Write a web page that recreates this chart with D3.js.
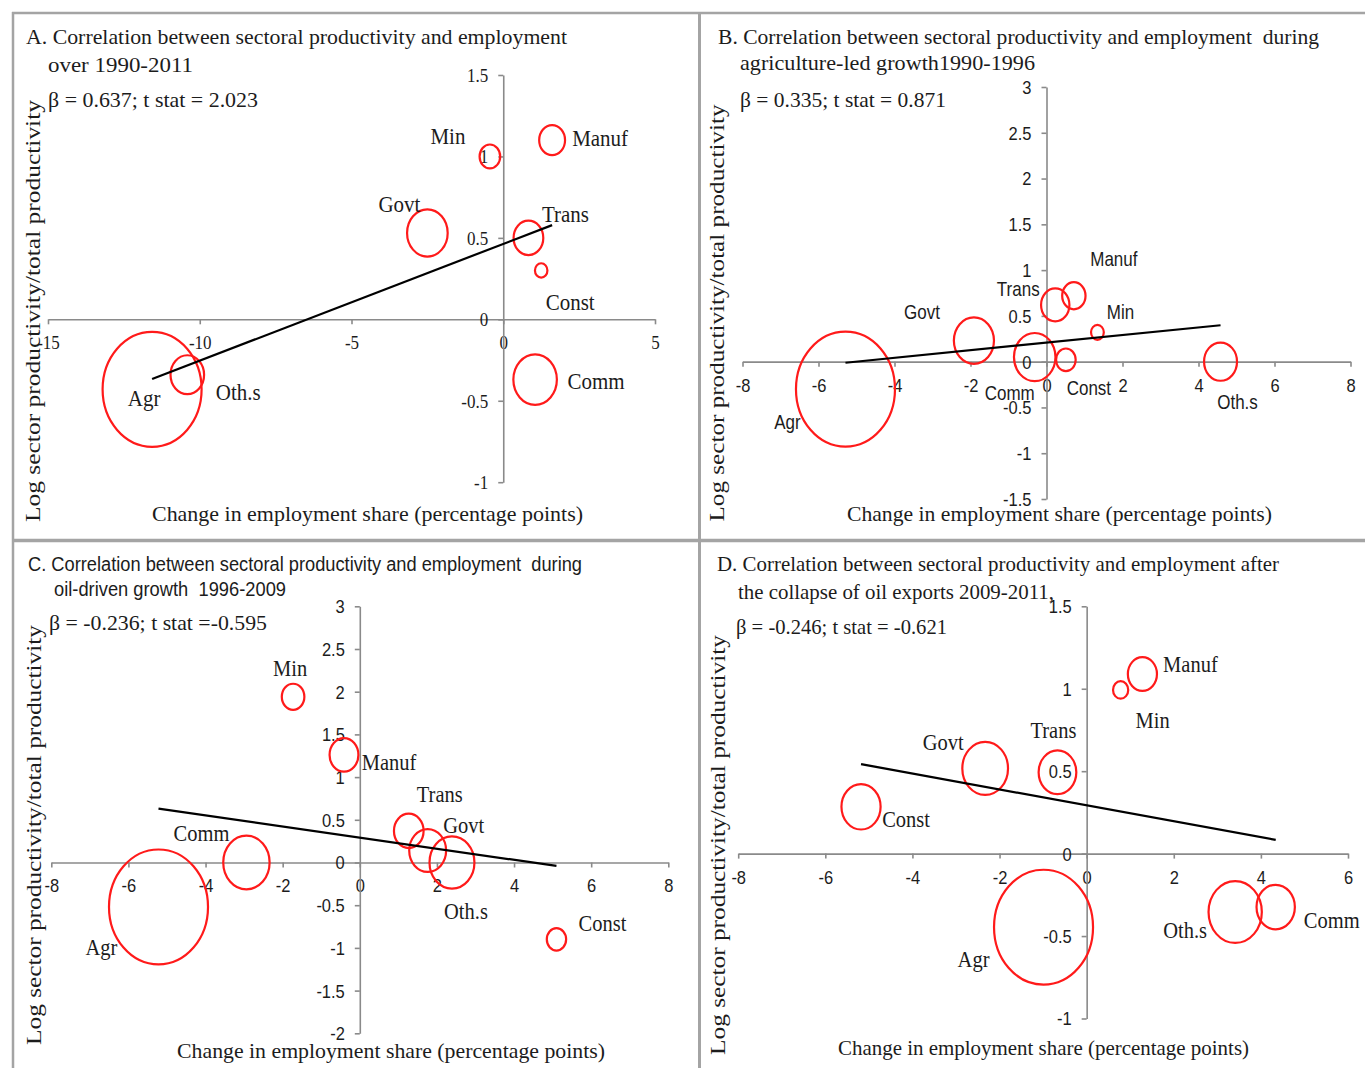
<!DOCTYPE html>
<html>
<head>
<meta charset="utf-8">
<script src="https://cdn.jsdelivr.net/npm/d3@7"></script>
<style>
  body { margin: 0; background: #ffffff; }
  svg { display: block; }
</style>
</head>
<body>
<svg id="chart" width="1365" height="1068"></svg>
<script>
// Sectors, same order in every panel
const sectors = ["Agr", "Min", "Manuf", "Const", "Trans", "Comm", "Govt", "Oth.s"];

// A. 1990-2011
const empChangeA = [-11.57, -0.44, 1.61, 1.25, 0.83, 1.05, -2.50, -10.41];
const logProdA   = [-0.43, 1.00, 1.10, 0.30, 0.50, -0.37, 0.53, -0.34];
const empShareA  = [60, 2.6, 4.1, 0.95, 5.4, 11.6, 10.1, 6.9];
const trendA     = [0.463, 0.0717];   // intercept, slope

// B. agriculture-led growth 1990-1996
const empChangeB = [-5.29, 1.34, 0.72, 0.51, 0.23, -0.31, -1.91, 4.58];
const logProdB   = [-0.30, 0.32, 0.72, 0.02, 0.62, 0.05, 0.23, 0.00];
const empShareB  = [55, 0.92, 3.06, 2.15, 4.51, 9.67, 9.03, 6.09];
const trendB     = [0.208, 0.0415];

// C. oil-driven growth 1996-2009
const empChangeC = [-5.22, -1.73, -0.41, 5.10, 1.27, -2.94, 1.76, 2.39];
const logProdC   = [-0.52, 1.94, 1.26, -0.90, 0.37, 0.00, 0.14, 0.00];
const empShareC  = [50, 2.6, 4.24, 1.91, 4.48, 10.97, 6.95, 10.31];
const trendC     = [0.291, -0.065];

// D. after the collapse of oil exports 2009-2011
const empChangeD = [-0.99, 0.78, 1.28, -5.18, -0.67, 4.34, -2.33, 3.41];
const logProdD   = [-0.446, 0.993, 1.089, 0.284, 0.493, -0.324, 0.517, -0.354];
const empShareD  = [45, 1.06, 3.89, 7.04, 6.53, 6.75, 9.59, 13.04];
const trendD     = [0.293, -0.0483];

// Tick values
const xTicksA = [-15, -10, -5, 0, 5];
const yTicksA = [-1, -0.5, 0, 0.5, 1, 1.5];
const xTicksB = [-8, -6, -4, -2, 0, 2, 4, 6, 8];
const yTicksB = [-1.5, -1, -0.5, 0, 0.5, 1, 1.5, 2, 2.5, 3];
const xTicksC = [-8, -6, -4, -2, 0, 2, 4, 6, 8];
const yTicksC = [-2, -1.5, -1, -0.5, 0, 0.5, 1, 1.5, 2, 2.5, 3];
const xTicksD = [-8, -6, -4, -2, 0, 2, 4, 6];
const yTicksD = [-1, -0.5, 0, 0.5, 1, 1.5];

// Text
const yTitle = "Log sector productivity/total productivity";
const xTitle = "Change in employment share (percentage points)";

const SERIF = "'Liberation Serif', 'DejaVu Serif', serif";
const SANS = "'Liberation Sans', Arial, sans-serif";
const INK = "#1c1c1c";
const RED = "#ff1a1a";
const AXIS = "#8a8a8a";
const FRAME = "#a4a4a4";
const STRETCH = 1.16;   // bubbles are drawn slightly taller than wide
const R_MAX = 49.5;

// Label placement (pixel offsets from bubble centre)
const labelOffsets = {
  A: { Agr: [-8, 9], Min: [-42, -21], Manuf: [48, -2], Const: [29, 31], Trans: [37, -24], Comm: [61, 1], Govt: [-28, -29], "Oth.s": [51, 17] },
  B: { Agr: [-58, 33], Min: [23, -21], Manuf: [40, -37], Const: [23, 28], Trans: [-37, -16], Comm: [-25, 36], Govt: [-52, -29], "Oth.s": [17, 40] },
  C: { Agr: [-57, 40], Min: [-3, -29], Manuf: [45, 7], Const: [46, -16], Trans: [31, -37], Comm: [-45, -29], Govt: [36, -25], "Oth.s": [14, 49] },
  D: { Agr: [-70, 32], Min: [32, 30], Manuf: [48, -10], Const: [45, 12], Trans: [-4, -42], Comm: [56, 13], Govt: [-42, -26], "Oth.s": [-50, 18] }
};

const rows = (xs, ys, ss) => sectors.map((s, i) => ({ sector: s, x: xs[i], y: ys[i], share: ss[i] }));

const panels = [
  {
    id: "A", data: rows(empChangeA, logProdA, empShareA), trend: trendA,
    xDomain: [-15, 5], xRange: [48, 655], yDomain: [-1, 1.5], yRange: [482.2, 75],
    xTicks: xTicksA, yTicks: yTicksA,
    tickFont: SERIF, tickSize: 17, tickSy: 1.1,
    labelFont: SERIF, labelSize: 21, labelSy: 1.1,
    titleFont: SERIF, titleSize: 21,
    titles: [["A. Correlation between sectoral productivity and employment", 26, 44, 541],
             ["over 1990-2011", 48, 72, 145]],
    beta: ["β = 0.637; t stat = 2.023", 48, 107, 210],
    yT: [40, 311, 422], xT: [367.5, 521, 431]
  },
  {
    id: "B", data: rows(empChangeB, logProdB, empShareB), trend: trendB,
    xDomain: [-8, 8], xRange: [742.5, 1350.5], yDomain: [-1.5, 3], yRange: [499, 87],
    xTicks: xTicksB, yTicks: yTicksB,
    tickFont: SANS, tickSize: 16.5, tickSy: 1.15,
    labelFont: SANS, labelSize: 17, labelSy: 1.2,
    titleFont: SERIF, titleSize: 21,
    titles: [["B. Correlation between sectoral productivity and employment  during", 718, 44, 601],
             ["agriculture-led growth1990-1996", 740, 70, 295]],
    beta: ["β = 0.335; t stat = 0.871", 740, 107, 206],
    yT: [724, 313, 417], xT: [1059.5, 521, 425]
  },
  {
    id: "C", data: rows(empChangeC, logProdC, empShareC), trend: trendC,
    xDomain: [-8, 8], xRange: [51.3, 668.3], yDomain: [-2, 3], yRange: [1033.3, 606.3],
    xTicks: xTicksC, yTicks: yTicksC,
    tickFont: SANS, tickSize: 16.5, tickSy: 1.15,
    labelFont: SERIF, labelSize: 20.5, labelSy: 1.1,
    titleFont: SANS, titleSize: 19.5,
    titles: [["C. Correlation between sectoral productivity and employment  during", 28, 571, 554],
             ["oil-driven growth  1996-2009", 54, 596, 232]],
    beta: ["β = -0.236; t stat =-0.595", 49, 630, 218],
    yT: [41, 835, 420], xT: [391, 1058, 428]
  },
  {
    id: "D", data: rows(empChangeD, logProdD, empShareD), trend: trendD,
    xDomain: [-8, 6], xRange: [738.2, 1348], yDomain: [-1, 1.5], yRange: [1018.5, 606.3],
    xTicks: xTicksD, yTicks: yTicksD,
    tickFont: SANS, tickSize: 16.5, tickSy: 1.15,
    labelFont: SERIF, labelSize: 20.5, labelSy: 1.1,
    titleFont: SERIF, titleSize: 21,
    titles: [["D. Correlation between sectoral productivity and employment after", 717, 571, 562],
             ["the collapse of oil exports 2009-2011,", 738, 599, 316]],
    beta: ["β = -0.246; t stat = -0.621", 736, 634, 211],
    yT: [725, 845, 420], xT: [1043.5, 1055, 411]
  }
];

const svg = d3.select("#chart");

function addText(g, s, x, y, o) {
  const t = g.append("text")
    .attr("transform", `translate(${x},${y})${o.rotate ? " rotate(-90)" : ""} scale(1,${o.sy || 1})`)
    .attr("font-family", o.font)
    .attr("font-size", o.size)
    .attr("text-anchor", o.anchor || "start")
    .attr("fill", INK)
    .style("white-space", "pre")
    .text(s);
  if (o.dy) t.attr("dy", o.dy);
  if (o.len) t.attr("textLength", o.len).attr("lengthAdjust", "spacingAndGlyphs");
  return t;
}

// Panel frame
const frame = svg.append("g").attr("stroke", FRAME).attr("fill", "none");
frame.append("line").attr("x1", 12).attr("x2", 1365).attr("y1", 13).attr("y2", 13).attr("stroke-width", 2.5);
frame.append("line").attr("x1", 13).attr("x2", 13).attr("y1", 12).attr("y2", 1068).attr("stroke-width", 2.5);
frame.append("line").attr("x1", 699.5).attr("x2", 699.5).attr("y1", 12).attr("y2", 1068).attr("stroke-width", 3);
frame.append("line").attr("x1", 12).attr("x2", 1365).attr("y1", 540.5).attr("y2", 540.5).attr("stroke-width", 3.5);

panels.forEach(p => {
  const g = svg.append("g").attr("class", "panel-" + p.id);
  const x = d3.scaleLinear().domain(p.xDomain).range(p.xRange);
  const y = d3.scaleLinear().domain(p.yDomain).range(p.yRange);
  const r = d3.scaleSqrt().domain([0, d3.max(p.data, d => d.share)]).range([0, R_MAX]);

  // Axes crossing at the origin
  const xAxis = g.append("g")
    .attr("transform", `translate(0,${y(0)})`)
    .call(d3.axisBottom(x).tickValues(p.xTicks).tickFormat(d => String(d)).tickSize(5).tickSizeOuter(0));
  const yAxis = g.append("g")
    .attr("transform", `translate(${x(0)},0)`)
    .call(d3.axisLeft(y).tickValues(p.yTicks).tickFormat(d => String(d)).tickSize(5).tickSizeOuter(0));

  [xAxis, yAxis].forEach(a => {
    a.select(".domain").attr("stroke", AXIS).attr("stroke-width", 1.6);
    a.selectAll(".tick line").attr("stroke", AXIS).attr("stroke-width", 1.6);
    a.selectAll(".tick text")
      .attr("font-family", p.tickFont)
      .attr("font-size", p.tickSize)
      .attr("fill", INK);
  });
  xAxis.selectAll(".tick text").attr("y", 0).attr("dy", null)
    .attr("transform", `translate(0,${23.5}) scale(1,${p.tickSy})`)
    .attr("dominant-baseline", "central");
  yAxis.selectAll(".tick text").attr("x", 0).attr("dy", null)
    .attr("text-anchor", "end")
    .attr("transform", `translate(-15,0) scale(1,${p.tickSy})`)
    .attr("dominant-baseline", "central");

  // Bubbles
  g.append("g").selectAll("ellipse").data(p.data).join("ellipse")
    .attr("cx", d => x(d.x))
    .attr("cy", d => y(d.y))
    .attr("rx", d => r(d.share))
    .attr("ry", d => r(d.share) * STRETCH)
    .attr("fill", "none")
    .attr("stroke", RED)
    .attr("stroke-width", 2.2);

  // Linear trend over the range of the data
  const [a, b] = p.trend;
  const xs = d3.extent(p.data, d => d.x);
  g.append("line")
    .attr("x1", x(xs[0])).attr("y1", y(a + b * xs[0]))
    .attr("x2", x(xs[1])).attr("y2", y(a + b * xs[1]))
    .attr("stroke", "#000").attr("stroke-width", 2.2);

  // Sector labels
  p.data.forEach(d => {
    const off = labelOffsets[p.id][d.sector];
    addText(g, d.sector, x(d.x) + off[0], y(d.y) + off[1],
      { font: p.labelFont, size: p.labelSize, sy: p.labelSy, anchor: "middle", dy: "0.35em" });
  });

  // Titles and regression statistics
  p.titles.forEach(t => addText(g, t[0], t[1], t[2], { font: p.titleFont, size: p.titleSize, len: t[3] }));
  addText(g, p.beta[0], p.beta[1], p.beta[2], { font: SERIF, size: 21, len: p.beta[3] });

  // Axis titles
  addText(g, yTitle, p.yT[0], p.yT[1], { font: SERIF, size: 21, rotate: true, anchor: "middle", len: p.yT[2] });
  addText(g, xTitle, p.xT[0], p.xT[1], { font: SERIF, size: 21, anchor: "middle", len: p.xT[2] });
});
</script>
</body>
</html>
